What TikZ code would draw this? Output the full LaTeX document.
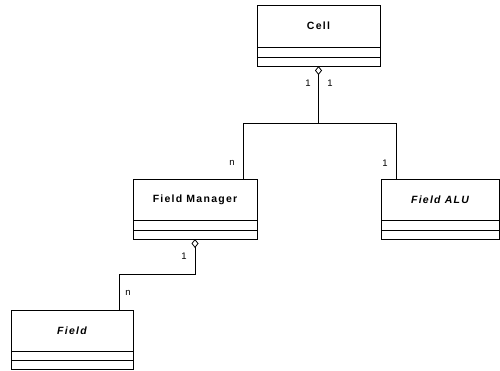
\documentclass[tikz,border=0pt]{standalone}
\usepackage{fontspec}
\setmainfont{Liberation Sans}
\newfontfamily\classfont[LetterSpace=12]{Liberation Sans}
\usetikzlibrary{arrows.meta}

\tikzset{
  uml/.style={draw, rectangle, line width=0.8pt, inner sep=0pt, outer sep=0pt},
  classname/.style={uml, anchor=north, font=\classfont\bfseries\fontsize{10.5}{12}\selectfont},
  abstractname/.style={classname, font=\classfont\bfseries\itshape\fontsize{10.5}{12}\selectfont},
  compartment/.style={uml, anchor=north},
  link/.style={line width=0.8pt},
  aggr/.style={link, {Diamond[open, length=9pt, width=7pt, line width=0.8pt]}-},
  mult/.style={font=\fontsize{9.5}{11}\selectfont, inner sep=0pt}
}

\begin{document}
\begin{tikzpicture}[x=1pt, y=-1pt]
\useasboundingbox (0,0) rectangle (500,371);

% Cell
\node[classname, minimum width=123, minimum height=42] (cell) at (318.5,5) {Cell};
\node[compartment, minimum width=123, minimum height=10] (cellA) at (cell.south) {};
\node[compartment, minimum width=123, minimum height=9] (cellB) at (cellA.south) {};

% Field Manager
\node[classname, minimum width=124, minimum height=41] (fm) at (195,179) {Field Manager};
\node[compartment, minimum width=124, minimum height=10] (fmA) at (fm.south) {};
\node[compartment, minimum width=124, minimum height=9] (fmB) at (fmA.south) {};

% Field ALU (abstract)
\node[abstractname, minimum width=118, minimum height=41] (alu) at (440,179) {Field ALU};
\node[compartment, minimum width=118, minimum height=10] (aluA) at (alu.south) {};
\node[compartment, minimum width=118, minimum height=9] (aluB) at (aluA.south) {};

% Field (abstract)
\node[abstractname, minimum width=122, minimum height=41] (field) at (72,310) {Field};
\node[compartment, minimum width=122, minimum height=9] (fieldA) at (field.south) {};
\node[compartment, minimum width=122, minimum height=9] (fieldB) at (fieldA.south) {};

% Aggregations
\coordinate (cj) at (cellB.south |- 0,123);
\draw[aggr] (cellB.south) -- (cj) -| ([xshift=48]fm.north);
\draw[link] (cj) -| ([xshift=-44]alu.north);

\coordinate (fj) at (fmB.south |- 0,274);
\draw[aggr] (fmB.south) -- (fj) -| ([xshift=47]field.north);

% Multiplicities
\node[mult] (m1) at (308,83) {1};
\node[mult] (m2) at (330,83) {1};
\node[mult] (m3) at (232,163) {n};
\node[mult] (m4) at (385,163) {1};
\node[mult] (m5) at (184,256) {1};
\node[mult] (m6) at (128,293) {n};
\end{tikzpicture}
\end{document}
